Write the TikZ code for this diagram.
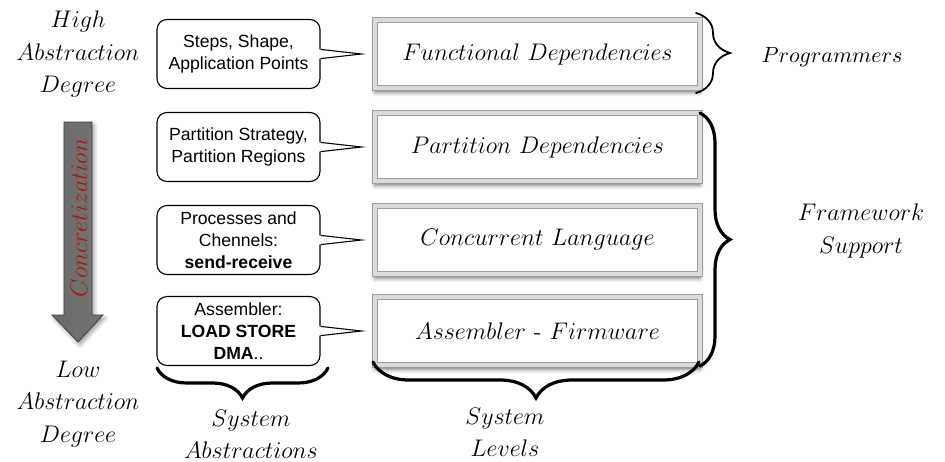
\documentclass[tikz,border=0pt]{standalone}
\usepackage{fontspec}
\newfontfamily\calloutfont{Liberation Sans}
\usetikzlibrary{calc,decorations.pathreplacing,shadows.blur}
\definecolor{concred}{HTML}{A8170F}

\begin{document}
\begin{tikzpicture}[x=0.5pt,y=-0.5pt,
  levelbox/.style={minimum width=162.5pt, minimum height=34pt, inner sep=0pt,
    fill=white, draw=black!38, line width=0.5pt, double=black!14, double distance=1.7pt,
    font=\fontsize{12}{15}\selectfont,
    blur shadow={shadow xshift=0pt, shadow yshift=-2.2pt, shadow blur radius=2pt, shadow opacity=55}},
  calloutbox/.style={minimum width=81.5pt, minimum height=34.5pt, inner sep=0pt,
    align=center, fill=white, draw=black, line width=0.55pt, rounded corners=5pt,
    font=\calloutfont\fontsize{8.8}{11}\selectfont},
  tailside/.style={draw=black, line width=0.55pt, line join=miter},
  mathlabel/.style={align=center, inner sep=0pt, font=\fontsize{12}{16.2}\selectfont},
  bracestyle/.style={decorate, line width=#1, line cap=round},
  arrowbody/.style={left color=black!58, middle color=black!28, right color=black!55,
    draw=black!75, line width=0.4pt,
    blur shadow={shadow xshift=1pt, shadow yshift=-1.5pt, shadow blur radius=2pt, shadow opacity=40}}
]
\useasboundingbox (0,0) rectangle (945,461);

% abstraction levels
\node[levelbox] (L1) at (537.5,54)  {$Functional\ Dependencies$};
\node[levelbox] (L2) at (537.5,147) {$Partition\ Dependencies$};
\node[levelbox] (L3) at (537.5,240) {$Concurrent\ Language$};
\node[levelbox] (L4) at (537.5,331) {$Assembler\ \textrm{-}\ Firmware$};

% callouts describing each level
\node[calloutbox] (C1) at (238.5,54)  {Steps, Shape,\\Application Points};
\node[calloutbox] (C2) at (238.5,147) {Partition Strategy,\\Partition Regions};
\node[calloutbox] (C3) at (238.5,240) {Processes and\\Chennels:\\\textbf{send-receive}};
\node[calloutbox] (C4) at (238.5,331) {Assembler:\\\textbf{LOAD STORE}\\\textbf{DMA}..};

\newcommand\callouttail[2]{%
  \fill[white] ($(#1.east)+(-1pt,2.3pt)$) -- ($(#1.east)+(0,2.3pt)$) -- ($(#2.west)+(-6.5pt,0)$)
     -- ($(#1.east)+(0,-2.3pt)$) -- ($(#1.east)+(-1pt,-2.3pt)$) -- cycle;
  \draw[tailside] ($(#1.east)+(0,2.3pt)$) -- ($(#2.west)+(-6.5pt,0)$) -- ($(#1.east)+(0,-2.3pt)$);}
\callouttail{C1}{L1}
\callouttail{C2}{L2}
\callouttail{C3}{L3}
\callouttail{C4}{L4}

% concretization arrow
\path[arrowbody] (64,122) -- (92,122) -- (92,315) -- (103,315) -- (78,342)
   -- (52,315) -- (64,315) -- cycle;
\node[rotate=90, text=concred, font=\fontsize{12}{15}\selectfont, inner sep=0pt] (conc)
   at (79,218) {$Concretization$};

% side labels
\node[mathlabel] (high) at (78,54)  {$High$\\$Abstraction$\\$Degree$};
\node[mathlabel] (low)  at (78,404) {$Low$\\$Abstraction$\\$Degree$};
\node[mathlabel, font=\fontsize{10.5}{13}\selectfont] (prog) at (832,57) {$Programmers$};
\node[mathlabel] (fw)   at (861,231) {$Framework$\\$Support$};
\node[mathlabel] (sabs) at (251,434) {$System$\\$Abstractions$};
\node[mathlabel] (slev) at (505,432) {$System$\\$Levels$};

% braces
\draw[bracestyle=0.9pt, decoration={brace, amplitude=17pt}] (696,13) -- (696,93);
\draw[bracestyle=1.6pt, decoration={brace, amplitude=15pt}] (700,113) -- (700,366);
\draw[bracestyle=1.6pt, decoration={brace, mirror, amplitude=15pt}] (157,368) -- (328,368);
\draw[bracestyle=1.6pt, decoration={brace, mirror, amplitude=18pt}] (373,362) -- (699,362);
\end{tikzpicture}
\end{document}
